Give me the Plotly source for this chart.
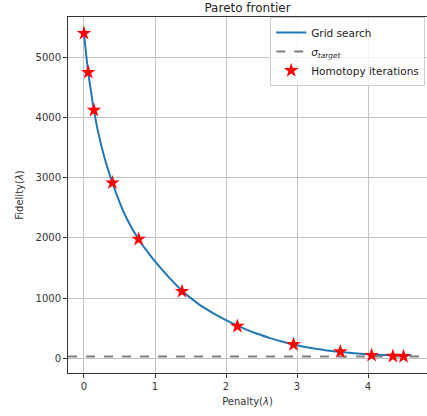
import plotly.graph_objects as go

# Grid search curve
grid_x = [0.0, 0.06, 0.1, 0.14, 0.2, 0.3, 0.4, 0.5, 0.6, 0.77, 0.9, 1.0, 1.2, 1.38, 1.6, 1.8, 2.0, 2.16, 2.4, 2.6, 2.8, 2.95, 3.2, 3.4, 3.61, 3.8, 4.05, 4.3, 4.62]
grid_y = [5400, 4760, 4430, 4130, 3760, 3290, 2920, 2600, 2330, 1975, 1760, 1610, 1340, 1120, 910, 760, 630, 540, 420, 340, 270, 225, 165, 130, 100, 80, 60, 48, 40]

# Homotopy iterations
homo_x = [0.0, 0.06, 0.14, 0.4, 0.77, 1.38, 2.16, 2.95, 3.61, 4.05, 4.35, 4.5]
homo_y = [5410, 4760, 4130, 2920, 1980, 1110, 530, 225, 105, 45, 30, 25]

sigma_target = 25
x_range = [-0.225, 4.83]
y_range = [-250, 5683]
x_ticks = [0, 1, 2, 3, 4]
y_ticks = [0, 1000, 2000, 3000, 4000, 5000]

fig = go.Figure()
fig.add_trace(go.Scatter(x=grid_x, y=grid_y, mode="lines", name="Grid search",
                         line=dict(color="#1f77b4", width=2, shape="spline")))
fig.add_trace(go.Scatter(x=x_range, y=[sigma_target, sigma_target], mode="lines",
                         name="<i>σ<sub>target</sub></i>",
                         line=dict(color="gray", width=2, dash="dash")))
fig.add_trace(go.Scatter(x=homo_x, y=homo_y, mode="markers", name="Homotopy iterations",
                         marker=dict(symbol="star", color="red", size=11,
                                     line=dict(width=0))))

axis_common = dict(showgrid=True, gridcolor="#c4c4c4", gridwidth=1, zeroline=False,
                   ticks="outside", ticklen=4, tickcolor="#333", linecolor="#333",
                   showline=True, automargin=False, tickfont=dict(size=10, color="#333"))
fig.update_xaxes(range=x_range, tickvals=x_ticks, mirror=True,
                 title=dict(text="Penalty(<i>λ</i>)", font=dict(size=10, color="#333"), standoff=6),
                 **axis_common)
fig.update_yaxes(range=y_range, tickvals=y_ticks, mirror=False,
                 title=dict(text="Fidelity(<i>λ</i>)", font=dict(size=10, color="#333"), standoff=10),
                 **axis_common)

fig.update_layout(
    width=427, height=416,
    margin=dict(l=68, r=0, t=17, b=43, autoexpand=False),
    paper_bgcolor="white", plot_bgcolor="white",
    font=dict(family="DejaVu Sans", color="#222"),
    title=dict(text="Pareto frontier", x=0.5, xref="paper", y=1 - 8 / 416, yanchor="middle",
               automargin=False, font=dict(size=12, color="#222")),
    showlegend=True,
    legend=dict(x=0.995, y=1.0, xanchor="right", yanchor="top",
                bgcolor="rgba(255,255,255,0.8)", bordercolor="#ccc", borderwidth=1,
                font=dict(size=10.5, color="#222"), tracegroupgap=0, itemwidth=30),
)

fig.write_html("out.html", config={"displayModeBar": False},
               post_script="document.body.style.margin='0';document.body.style.overflow='hidden';")
